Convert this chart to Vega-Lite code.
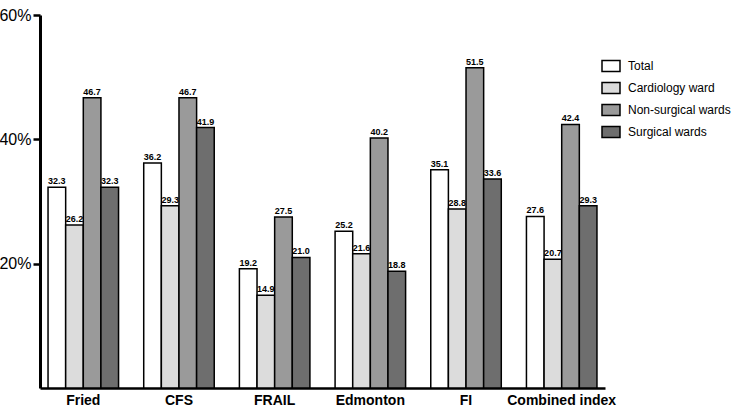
{
  "$schema": "https://vega.github.io/schema/vega-lite/v6.json",
  "width": 565,
  "height": 373,
  "autosize": "none",
  "padding": {"left": 40, "top": 15, "right": 130, "bottom": 22},
  "background": "white",
  "config": {
    "view": {"stroke": null},
    "font": "Liberation Sans"
  },
  "data": {
    "values": [
      {"index": "Fried", "group": "Total", "value": 32.3},
      {"index": "Fried", "group": "Cardiology ward", "value": 26.2},
      {"index": "Fried", "group": "Non-surgical wards", "value": 46.7},
      {"index": "Fried", "group": "Surgical wards", "value": 32.3},
      {"index": "CFS", "group": "Total", "value": 36.2},
      {"index": "CFS", "group": "Cardiology ward", "value": 29.3},
      {"index": "CFS", "group": "Non-surgical wards", "value": 46.7},
      {"index": "CFS", "group": "Surgical wards", "value": 41.9},
      {"index": "FRAIL", "group": "Total", "value": 19.2},
      {"index": "FRAIL", "group": "Cardiology ward", "value": 14.9},
      {"index": "FRAIL", "group": "Non-surgical wards", "value": 27.5},
      {"index": "FRAIL", "group": "Surgical wards", "value": 21.0},
      {"index": "Edmonton", "group": "Total", "value": 25.2},
      {"index": "Edmonton", "group": "Cardiology ward", "value": 21.6},
      {"index": "Edmonton", "group": "Non-surgical wards", "value": 40.2},
      {"index": "Edmonton", "group": "Surgical wards", "value": 18.8},
      {"index": "FI", "group": "Total", "value": 35.1},
      {"index": "FI", "group": "Cardiology ward", "value": 28.8},
      {"index": "FI", "group": "Non-surgical wards", "value": 51.5},
      {"index": "FI", "group": "Surgical wards", "value": 33.6},
      {"index": "Combined index", "group": "Total", "value": 27.6},
      {"index": "Combined index", "group": "Cardiology ward", "value": 20.7},
      {"index": "Combined index", "group": "Non-surgical wards", "value": 42.4},
      {"index": "Combined index", "group": "Surgical wards", "value": 29.3}
    ]
  },
  "encoding": {
    "x": {
      "field": "index",
      "type": "nominal",
      "sort": null,
      "scale": {"paddingInner": 0.263, "paddingOuter": 0.084},
      "axis": {
        "title": null,
        "labelAngle": 0,
        "labelFontWeight": "bold",
        "labelFontSize": 14,
        "labelColor": "black",
        "labelPadding": 5,
        "ticks": false,
        "domainColor": "black",
        "domainWidth": 2.5
      }
    },
    "xOffset": {
      "field": "group",
      "type": "nominal",
      "sort": ["Total", "Cardiology ward", "Non-surgical wards", "Surgical wards"],
      "scale": {"paddingInner": 0, "paddingOuter": 0}
    },
    "y": {
      "field": "value",
      "type": "quantitative",
      "scale": {"domain": [0, 60], "nice": false},
      "axis": {
        "title": null,
        "values": [20, 40, 60],
        "labelExpr": "datum.value + '%'",
        "labelFontSize": 16,
        "labelColor": "black",
        "labelPadding": 2,
        "grid": false,
        "tickSize": 7,
        "tickWidth": 2.5,
        "tickColor": "black",
        "domainColor": "black",
        "domainWidth": 3
      }
    }
  },
  "layer": [
    {
      "mark": {"type": "bar", "stroke": "black", "strokeWidth": 1.5},
      "encoding": {
        "fill": {
          "field": "group",
          "type": "nominal",
          "sort": ["Total", "Cardiology ward", "Non-surgical wards", "Surgical wards"],
          "scale": {
            "domain": ["Total", "Cardiology ward", "Non-surgical wards", "Surgical wards"],
            "range": ["#ffffff", "#dcdcdc", "#9a9a9a", "#6e6e6e"]
          },
          "legend": {
            "title": null,
            "orient": "none",
            "legendX": 561,
            "legendY": 41,
            "padding": 0,
            "symbolType": "M-1,-0.6L1,-0.6L1,0.6L-1,0.6Z",
            "symbolSize": 324,
            "symbolStrokeColor": "black",
            "symbolStrokeWidth": 1.5,
            "labelFontSize": 12,
            "labelColor": "black",
            "labelOffset": 7,
            "labelLimit": 200,
            "rowPadding": 3
          }
        }
      }
    },
    {
      "mark": {"type": "text", "dy": -6, "fontSize": 9, "fontWeight": "bold", "color": "black"},
      "encoding": {
        "text": {"field": "value", "type": "quantitative", "format": ".1f"}
      }
    }
  ]
}
